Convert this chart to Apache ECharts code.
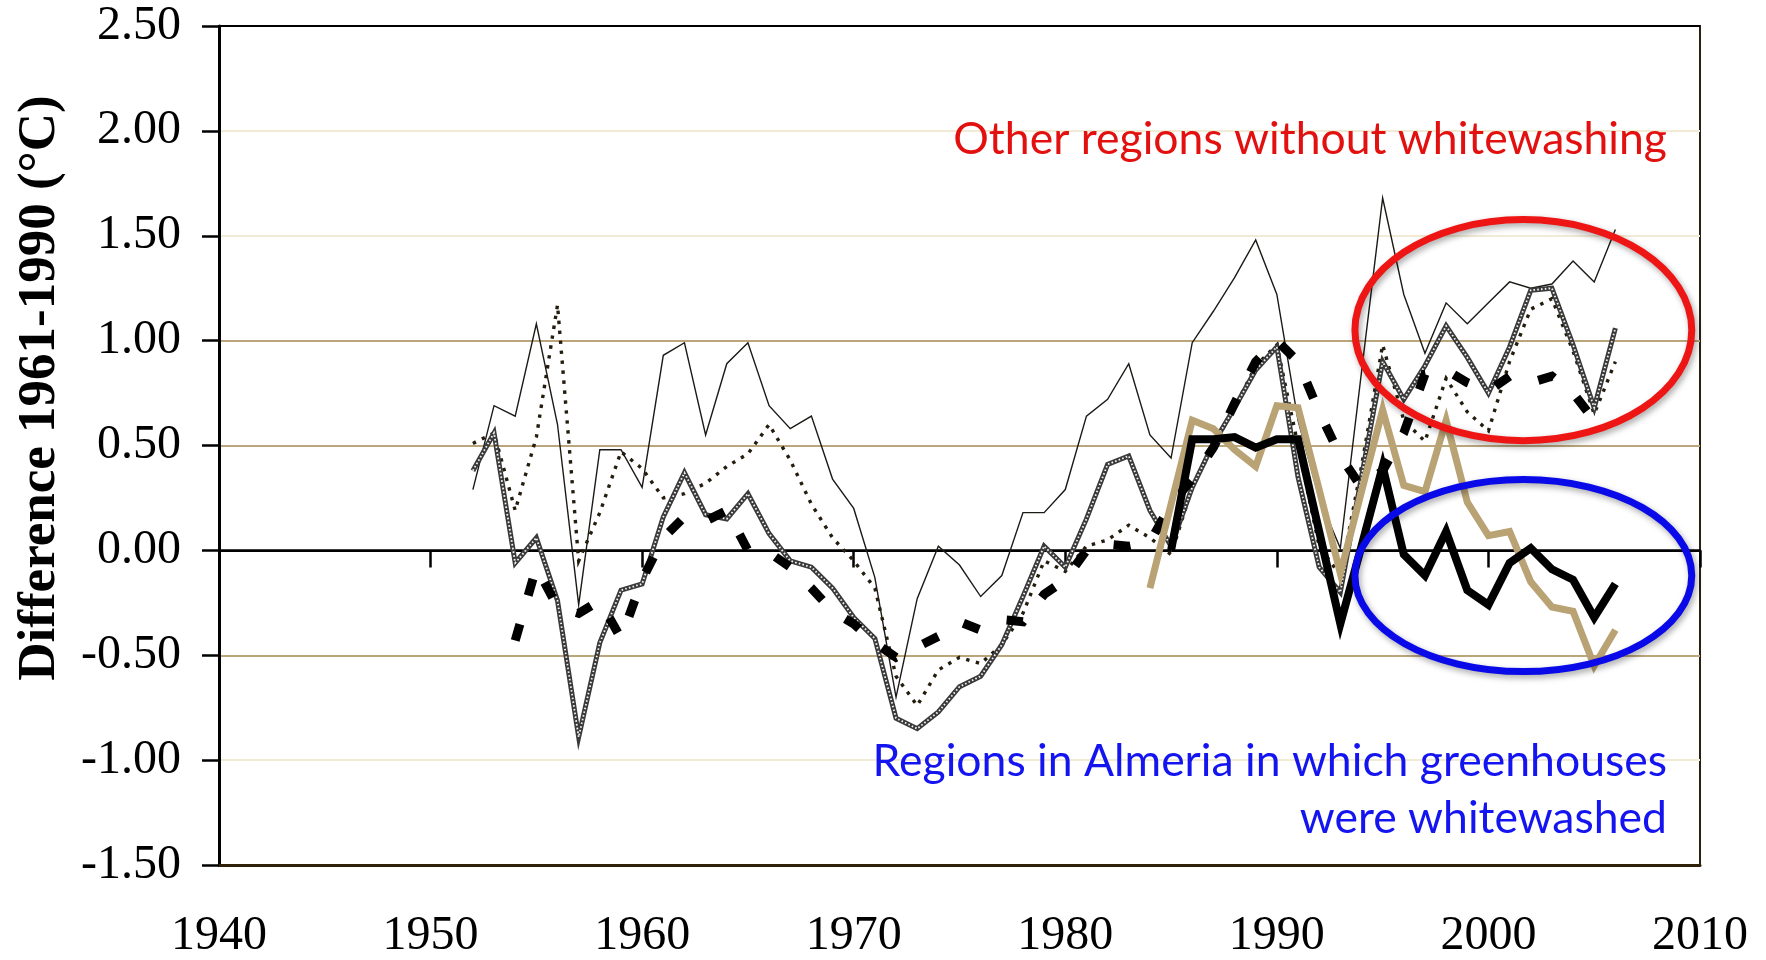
<!DOCTYPE html>
<html>
<head>
<meta charset="utf-8">
<title>Difference 1961-1990</title>
<script src="https://cdn.jsdelivr.net/npm/echarts@6.0.0/dist/echarts.min.js"></script>
<style>
html, body { margin: 0; padding: 0; background: #fff; }
#main { width: 1766px; height: 960px; }
</style>
</head>
<body>
<div id="main"></div>
<script>
// years on the x axis
var years = [1952, 1953, 1954, 1955, 1956, 1957, 1958, 1959, 1960, 1961,
	1962, 1963, 1964, 1965, 1966, 1967, 1968, 1969, 1970, 1971,
	1972, 1973, 1974, 1975, 1976, 1977, 1978, 1979, 1980, 1981,
	1982, 1983, 1984, 1985, 1986, 1987, 1988, 1989, 1990, 1991,
	1992, 1993, 1994, 1995, 1996, 1997, 1998, 1999, 2000, 2001,
	2002, 2003, 2004, 2005, 2006];
var yearsDashed = years.slice(2, 54);   // 1954 - 2005
var yearsTan = years.slice(32);         // 1984 - 2006
var yearsBlack = years.slice(33);       // 1985 - 2006

// other regions (no whitewashing)
var thinLine = [0.29, 0.69, 0.64, 1.08, 0.60, -0.26, 0.48, 0.48, 0.30, 0.93,
	0.99, 0.55, 0.89, 0.99, 0.69, 0.58, 0.64, 0.34, 0.20, -0.13,
	-0.70, -0.23, 0.02, -0.07, -0.22, -0.12, 0.18, 0.18, 0.29, 0.64,
	0.72, 0.89, 0.55, 0.44, 0.99, 1.14, 1.30, 1.48, 1.22, 0.62,
	0.25, 0.01, 0.85, 1.68, 1.22, 0.94, 1.18, 1.08, 1.18, 1.28,
	1.25, 1.27, 1.38, 1.28, 1.53];
var dottedLine = [0.51, 0.56, 0.19, 0.54, 1.17, -0.05, 0.18, 0.47, 0.39, 0.25,
	0.27, 0.32, 0.40, 0.46, 0.60, 0.43, 0.22, 0.06, -0.05, -0.18,
	-0.60, -0.74, -0.57, -0.51, -0.54, -0.45, -0.30, -0.05, -0.10, 0.02,
	0.05, 0.12, 0.06, -0.02, 0.30, 0.50, 0.68, 0.88, 0.98, 0.50,
	0.02, -0.12, 0.40, 0.98, 0.62, 0.52, 0.82, 0.66, 0.57, 0.90,
	1.15, 1.20, 0.95, 0.65, 0.90];
var grayLine = [0.38, 0.56, -0.06, 0.06, -0.24, -0.89, -0.44, -0.19, -0.16, 0.16,
	0.37, 0.17, 0.15, 0.27, 0.08, -0.05, -0.08, -0.18, -0.32, -0.42,
	-0.80, -0.85, -0.77, -0.65, -0.60, -0.45, -0.22, 0.02, -0.08, 0.15,
	0.41, 0.45, 0.19, 0.02, 0.30, 0.51, 0.68, 0.86, 0.97, 0.35,
	-0.08, -0.20, 0.35, 0.90, 0.72, 0.88, 1.07, 0.92, 0.75, 0.97,
	1.24, 1.25, 0.98, 0.68, 1.06];
var dashedLine = [-0.43, -0.08, -0.27, -0.30, -0.24, -0.42, -0.14, 0.06, 0.16, 0.14,
	0.19, 0.00, -0.01, -0.08, -0.18, -0.29, -0.35, -0.44, -0.51, -0.46,
	-0.41, -0.34, -0.38, -0.33, -0.34, -0.21, -0.14, 0.00, 0.03, 0.02,
	0.04, 0.22, 0.34, 0.49, 0.70, 0.90, 1.00, 0.90, 0.66, 0.45,
	0.30, 0.38, 0.56, 0.84, 0.86, 0.80, 0.76, 0.83, 0.80, 0.83,
	0.75, 0.62];

// Almeria (whitewashed greenhouses)
var tanLine = [-0.18, 0.22, 0.62, 0.58, 0.48, 0.40, 0.69, 0.68, 0.29, -0.11,
	0.28, 0.67, 0.31, 0.28, 0.62, 0.23, 0.07, 0.09, -0.15, -0.27,
	-0.29, -0.55, -0.38];
var blackLine = [0.00, 0.53, 0.53, 0.54, 0.49, 0.53, 0.53, 0.09, -0.35, 0.02,
	0.40, -0.02, -0.12, 0.09, -0.19, -0.26, -0.06, 0.01, -0.09, -0.14,
	-0.32, -0.16];

// y ticks
var yTicks = [-1.5, -1.0, -0.5, 0.0, 0.5, 1.0, 1.5, 2.0, 2.5];
var gridColors = ['#2a2010', '#f1ead4', '#bba67c', '#000000', '#bba67c', '#bba67c', '#f1ead4', '#f1ead4', '#000000'];

// annotation ellipses, in data units: [centerYear, centerValue, radiusYears, radiusValue]
var redEllipse = [2001.65, 1.05, 7.96, 0.527];
var blueEllipse = [2001.65, -0.12, 7.96, 0.458];

var serifFont = '"Liberation Serif", "Times New Roman", serif';
var sansFont = 'Lato, "Open Sans", sans-serif';

var myChart = echarts.init(document.getElementById('main'));

function pairs(xs, ys) {
	var out = [];
	for (var i = 0; i < ys.length; i++) {
		out.push([xs[i], ys[i]]);
	}
	return out;
}

function lineSeries(name, data, color, width, type, z) {
	return {
		name: name,
		type: 'line',
		data: data,
		symbol: 'none',
		silent: true,
		animation: false,
		z: z,
		lineStyle: { color: color, width: width, type: type, cap: 'butt', join: 'miter' }
	};
}

var option = {
	backgroundColor: '#ffffff',
	animation: false,
	grid: {
		left: 219, right: 66, top: 26, bottom: 95,
		show: true, borderColor: '#2a2010', borderWidth: 2
	},
	xAxis: [{
		type: 'value', min: 1940, max: 2010, interval: 10, position: 'bottom',
		axisLine: { onZero: false, lineStyle: { color: '#2e2108', width: 3 } },
		axisTick: { show: false },
		axisLabel: {
			color: '#000', fontFamily: serifFont, fontSize: 48, margin: 47,
			formatter: function (v) { return String(v); }
		},
		splitLine: { show: false }
	}, {
		type: 'value', min: 1940, max: 2010, interval: 10, position: 'top',
		axisLine: { onZero: true, lineStyle: { color: '#000', width: 2.5 } },
		axisTick: { inside: true, length: 17, lineStyle: { color: '#000', width: 2.5 } },
		axisLabel: { show: false },
		splitLine: { show: false }
	}],
	yAxis: {
		type: 'value', min: yTicks[0], max: yTicks[yTicks.length - 1], interval: 0.5,
		axisLine: { show: true, onZero: false, lineStyle: { color: '#000', width: 3 } },
		axisTick: { show: true, length: 17, lineStyle: { color: '#000', width: 2.5 } },
		axisLabel: {
			color: '#000', fontFamily: serifFont, fontSize: 48, margin: 38,
			formatter: function (v) { return v.toFixed(2); }
		},
		splitLine: { show: true, lineStyle: { color: gridColors, width: 2 } }
	},
	series: [
		lineSeries('thin', pairs(years, thinLine), '#1c1a16', 1.4, 'solid', 2),
		lineSeries('dotted', pairs(years, dottedLine), '#241c0c', 3.4, [3.4, 6.6], 3),
		lineSeries('gray', pairs(years, grayLine), '#3a3a3a', 5, 'solid', 4),
		lineSeries('grayDots', pairs(years, grayLine), '#f4f4f4', 1.8, [1.6, 2.2], 5),
		lineSeries('dashed', pairs(yearsDashed, dashedLine), '#000000', 9, [17, 30], 6),
		lineSeries('tan', pairs(yearsTan, tanLine), '#b9a273', 7, 'solid', 7),
		lineSeries('black', pairs(yearsBlack, blackLine), '#000000', 8, 'solid', 8)
	],
	graphic: [{
		type: 'text', x: 40, y: 388, rotation: Math.PI / 2, z: 100,
		style: {
			text: 'Difference 1961-1990 (°C)', fill: '#000',
			font: 'bold 53px ' + serifFont, align: 'center', verticalAlign: 'middle'
		}
	}, {
		type: 'text', x: 1667, y: 140, z: 100,
		style: {
			text: 'Other regions without whitewashing', fill: '#e31010',
			font: '44.5px ' + sansFont, align: 'right', verticalAlign: 'middle'
		}
	}, {
		type: 'text', x: 1667, y: 762, z: 100,
		style: {
			text: 'Regions in Almeria in which greenhouses', fill: '#1414f0',
			font: '44.5px ' + sansFont, align: 'right', verticalAlign: 'middle'
		}
	}, {
		type: 'text', x: 1667, y: 819, z: 100,
		style: {
			text: 'were whitewashed', fill: '#1414f0',
			font: '44.5px ' + sansFont, align: 'right', verticalAlign: 'middle'
		}
	}]
};

myChart.setOption(option);

// ellipses placed from data coordinates
function ellipseGraphic(e, color) {
	var c = myChart.convertToPixel({ xAxisIndex: 0, yAxisIndex: 0 }, [e[0], e[1]]);
	var r = myChart.convertToPixel({ xAxisIndex: 0, yAxisIndex: 0 }, [e[0] + e[2], e[1] + e[3]]);
	return {
		type: 'ellipse', z: 90, silent: true,
		shape: { cx: c[0], cy: c[1], rx: Math.abs(r[0] - c[0]), ry: Math.abs(c[1] - r[1]) },
		style: {
			fill: 'none', stroke: color, lineWidth: 7,
			shadowBlur: 6, shadowColor: 'rgba(0,0,0,0.35)', shadowOffsetX: 2, shadowOffsetY: 3
		}
	};
}

var g = option.graphic.slice();
g.push(ellipseGraphic(redEllipse, '#ee1515'));
g.push(ellipseGraphic(blueEllipse, '#0a0ae8'));
myChart.setOption({ graphic: g }, { replaceMerge: ['graphic'] });
</script>
</body>
</html>
